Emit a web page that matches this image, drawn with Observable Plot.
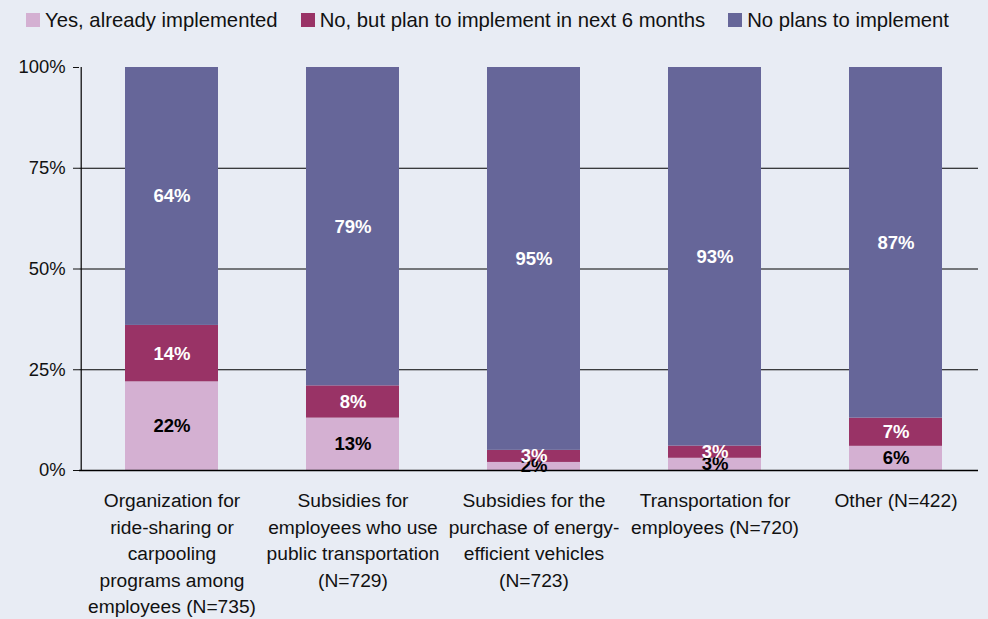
<!DOCTYPE html>
<html>
<head>
<meta charset="utf-8">
<script src="https://cdn.jsdelivr.net/npm/d3@7"></script>
<script src="https://cdn.jsdelivr.net/npm/@observablehq/plot@0.6"></script>
<style>
  html, body { margin: 0; padding: 0; background: #e8ecf4; }
  body { width: 988px; height: 619px; overflow: hidden; font-family: "Liberation Sans", Arial, sans-serif; }
  #legend { height: 40px; display: flex; align-items: center; padding-left: 26px; font-size: 20.3px; color: #111; }
  #legend .item { display: flex; align-items: center; margin-right: 23px; }
  #legend .sw { width: 14px; height: 14px; margin-right: 5px; }
  svg { display: block; }
</style>
</head>
<body>
<div id="legend"></div>
<div id="chart"></div>
<script>
const categories = [
  "Organization for\nride-sharing or\ncarpooling\nprograms among\nemployees (N=735)",
  "Subsidies for\nemployees who use\npublic transportation\n(N=729)",
  "Subsidies for the\npurchase of energy-\nefficient vehicles\n(N=723)",
  "Transportation for\nemployees (N=720)",
  "Other (N=422)"
];
const seriesNames = ["Yes, already implemented", "No, but plan to implement in next 6 months", "No plans to implement"];
const yesValues = [22, 13, 2, 3, 6];
const planValues = [14, 8, 3, 3, 7];
const noValues = [64, 79, 95, 93, 87];
const colors = ["#d4b0d2", "#993366", "#666699"];
const labelColors = ["#000000", "#ffffff", "#ffffff"];
const yTicks = [0, 0.25, 0.5, 0.75, 1];

const seriesValues = [yesValues, planValues, noValues];
const data = [];
seriesNames.forEach((s, si) => {
  categories.forEach((c, ci) => {
    data.push({category: c, series: s, value: seriesValues[si][ci], labelColor: labelColors[si]});
  });
});

// legend
const legend = document.getElementById("legend");
seriesNames.forEach((s, i) => {
  const item = document.createElement("div");
  item.className = "item";
  const sw = document.createElement("span");
  sw.className = "sw";
  sw.style.background = colors[i];
  const t = document.createElement("span");
  t.textContent = s;
  item.appendChild(sw);
  item.appendChild(t);
  legend.appendChild(item);
});

const W = 988, H = 579;
const mL = 79, mR = 10, mT = 27, mB = 149;
const xRange = [mL, 987];
const step = (xRange[1] - xRange[0]) / categories.length;

const chart = Plot.plot({
  width: W,
  height: H,
  marginLeft: mL,
  marginRight: mR,
  marginTop: mT,
  marginBottom: mB,
  style: {background: "transparent", fontFamily: "'Liberation Sans', Arial, sans-serif"},
  x: {domain: categories, range: xRange, paddingInner: 0.488, paddingOuter: 0.244, axis: null},
  y: {domain: [0, 1], axis: null, label: null},
  color: {domain: seriesNames, range: colors},
  marks: [
    Plot.ruleY(yTicks.slice(1, 4), {stroke: "#000", strokeWidth: 1}),
    Plot.barY(data, Plot.stackY({x: "category", y: "value", fill: "series", z: "series", offset: "normalize"})),
    Plot.text(data, Plot.stackY({
      x: "category", y: "value", z: "series", offset: "normalize",
      text: d => d.value + "%", fill: "labelColor",
      fontSize: 18.5, fontWeight: "bold"
    })),
    Plot.ruleY([0], {stroke: "#000", strokeWidth: 1.5}),
    // y axis line and ticks
    Plot.ruleX([categories[0]], {y1: 0, y2: 1, dx: -step / 2, stroke: "#000", strokeWidth: 1.2}),
    Plot.axisY({ticks: yTicks, tickFormat: d => Math.round(d * 100) + "%", tickSize: 6, tickPadding: 8, fontSize: 18.4, color: "#111", anchor: "left", label: null}),
    // x category boundary ticks
    Plot.ruleX(categories, {x: d => d, dx: -step / 2, y: 0, dy: 3, stroke: "#000", strokeWidth: 1.2}),
    Plot.text(categories, {
      x: d => d, text: d => d, frameAnchor: "bottom", lineAnchor: "top",
      dy: 18, lineHeight: 1.38, fontSize: 19.2, fill: "#111", textAnchor: "middle"
    })
  ]
});
document.getElementById("chart").appendChild(chart);
</script>
</body>
</html>
